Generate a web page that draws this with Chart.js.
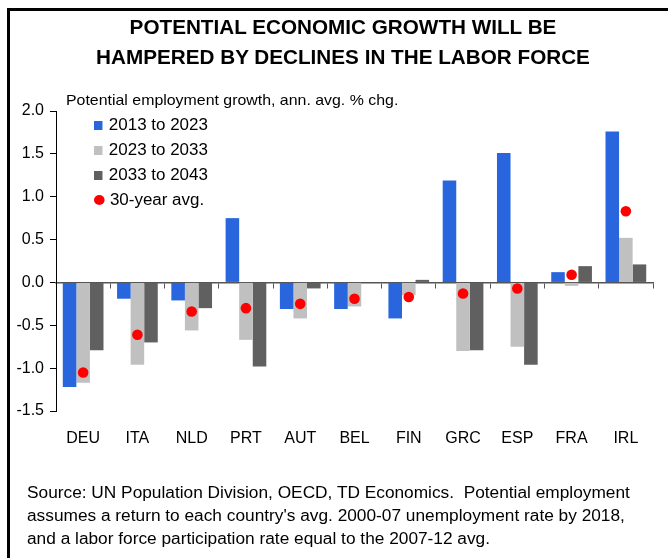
<!DOCTYPE html>
<html>
<head>
<meta charset="utf-8">
<script src="https://cdn.jsdelivr.net/npm/chart.js@4/dist/chart.umd.min.js"></script>
<style>
  html, body { margin: 0; padding: 0; background: #fff; }
  body { width: 668px; height: 558px; position: relative; overflow: hidden;
         font-family: "Liberation Sans", Arial, sans-serif; color: #000; }
  #frame { position: absolute; left: 7px; top: 8px; right: -10px; bottom: -10px;
           border-left: 3px solid #000; border-top: 3px solid #000; }
  #title { position: absolute; left: 18px; width: 650px; top: 12px; text-align: center;
           font-weight: bold; font-size: 20.7px; line-height: 30px; }
  #sub { position: absolute; left: 66px; top: 91px; font-size: 15px; white-space: nowrap;
         transform: scaleX(1.06); transform-origin: left center; }
  #legend { position: absolute; left: 94px; top: 112px; font-size: 16px;
            transform: scaleX(1.06); transform-origin: left center; }
  .item { height: 25px; line-height: 25px; white-space: nowrap; }
  .mk { display: inline-block; width: 8px; height: 9px; margin-right: 6px; vertical-align: 0px; }
  .dot { border-radius: 50%; width: 10px; height: 10px; margin-right: 5px; }
  #source { position: absolute; left: 27px; top: 481px; font-size: 16px; line-height: 23px; white-space: nowrap;
            transform: scaleX(1.08); transform-origin: left center; }
  #wrap { position: absolute; left: 0; top: 0; width: 668px; height: 558px; }
</style>
</head>
<body>
<div id="frame"></div>
<div id="wrap"><canvas id="myChart"></canvas></div>
<div id="title">POTENTIAL ECONOMIC GROWTH WILL BE<br>HAMPERED BY DECLINES IN THE LABOR FORCE</div>
<div id="sub">Potential employment growth, ann. avg. % chg.</div>
<div id="legend"></div>
<div id="source">Source: UN Population Division, OECD, TD Economics.&nbsp; Potential employment<br>assumes a return to each country's avg. 2000-07 unemployment rate by 2018,<br>and a labor force participation rate equal to the 2007-12 avg.</div>
<script>
const countries = ["DEU", "ITA", "NLD", "PRT", "AUT", "BEL", "FIN", "GRC", "ESP", "FRA", "IRL"];
const growth2013 = [-1.22, -0.19, -0.21, 0.75, -0.31, -0.31, -0.42, 1.19, 1.51, 0.12, 1.76];
const growth2023 = [-1.17, -0.96, -0.56, -0.67, -0.42, -0.28, -0.15, -0.80, -0.75, -0.04, 0.52];
const growth2033 = [-0.79, -0.70, -0.30, -0.98, -0.07, 0.0, 0.03, -0.79, -0.96, 0.19, 0.21];
const avg30 = [-1.05, -0.61, -0.34, -0.30, -0.25, -0.19, -0.17, -0.13, -0.07, 0.09, 0.83];

Chart.defaults.font.family = '"Liberation Sans", Arial, sans-serif';
Chart.defaults.color = "#000";

const ctx = document.getElementById("myChart").getContext("2d");
const myChart = new Chart(ctx, {
    type: "bar",
    data: {
        labels: countries,
        datasets: [
            { label: "2013 to 2023", data: growth2013, backgroundColor: "#2966de", order: 1 },
            { label: "2023 to 2033", data: growth2023, backgroundColor: "#c0c0c0", order: 1 },
            { label: "2033 to 2043", data: growth2033, backgroundColor: "#606060", order: 1 },
            {
                label: "30-year avg.", type: "line", data: avg30, showLine: false, order: 0,
                pointRadius: 5.3, pointBorderWidth: 0,
                pointBackgroundColor: "#ff0000", backgroundColor: "#ff0000", borderColor: "#ff0000"
            },
        ],
    },
    options: {
        responsive: true,
        maintainAspectRatio: false,
        animation: false,
        layout: { padding: { top: 111, right: 15, left: 0, bottom: 0 } },
        datasets: { bar: { categoryPercentage: 0.75, barPercentage: 1.0 } },
        plugins: { legend: { display: false }, tooltip: { enabled: false } },
        scales: {
            x: {
                position: "bottom",
                grid: { display: false, drawTicks: false },
                border: { display: false },
                ticks: { padding: 18, font: { size: 16 } },
                afterFit: (s) => { s.height = 147; }
            },
            x2: {
                type: "category",
                labels: countries,
                position: { y: 0 },
                offset: true,
                z: 1,
                grid: { offset: true, drawOnChartArea: false, drawTicks: true, tickLength: 5, color: "#555" },
                border: { display: true, color: "#555", width: 1.5 },
                ticks: { display: false }
            },
            y: {
                min: -1.5,
                max: 2.0,
                grid: { drawOnChartArea: false, drawTicks: true, tickLength: 6, color: "#000" },
                border: { display: true, color: "#000", width: 1 },
                ticks: {
                    stepSize: 0.5, padding: 6, font: { size: 16 },
                    callback: (v) => v.toFixed(1)
                },
                afterFit: (s) => { s.width = 56; }
            },
        },
    },
});

// legend built from the datasets
const legendEl = document.getElementById("legend");
myChart.data.datasets.forEach((ds) => {
    const row = document.createElement("div");
    row.className = "item";
    const mk = document.createElement("span");
    mk.className = ds.type === "line" ? "mk dot" : "mk";
    mk.style.background = ds.backgroundColor;
    row.appendChild(mk);
    row.appendChild(document.createTextNode(ds.label));
    legendEl.appendChild(row);
});
</script>
</body>
</html>
